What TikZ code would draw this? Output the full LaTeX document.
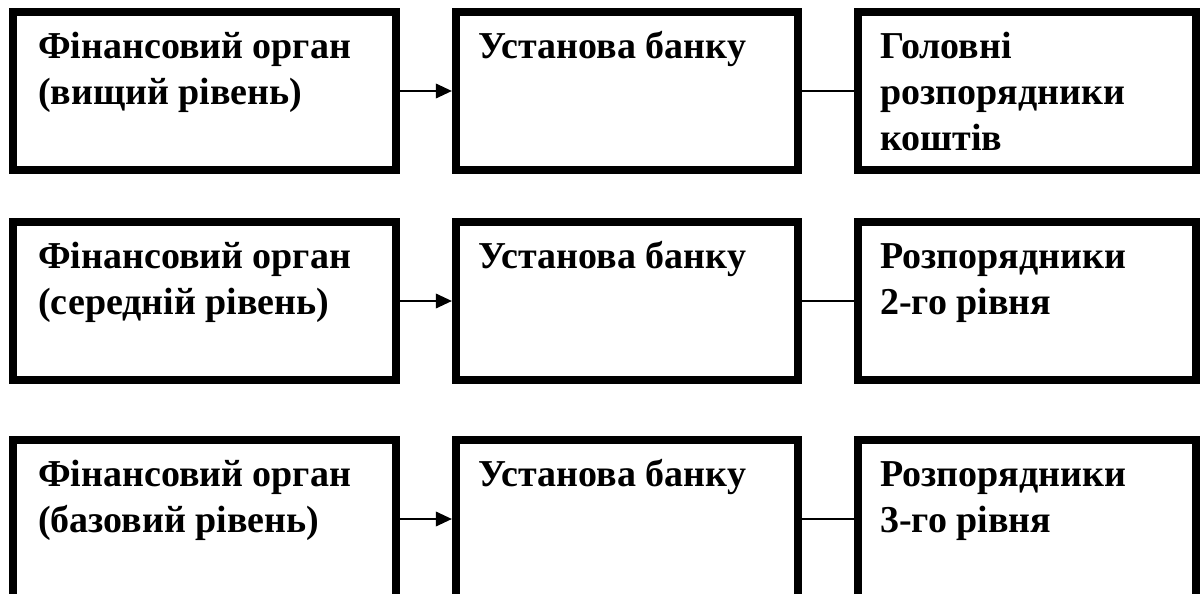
\documentclass[tikz,border=0pt]{standalone}
\usepackage{fontspec}
\setmainfont{Liberation Serif}
\usetikzlibrary{arrows.meta}
\newcommand{\tstrut}{\rule{0pt}{28pt}}
\begin{document}
\begin{tikzpicture}[x=0.75pt,y=-0.75pt,
  box/.style={draw=black,line width=5.8pt,inner sep=0pt,fill=white},
  w1/.style={minimum width=287.6pt},
  w2/.style={minimum width=256.9pt},
  w3/.style={minimum width=253.9pt},
  hh/.style={minimum height=118.9pt},
  txt/.style={anchor=north west,inner sep=0pt,align=left,
    font={\fontsize{28.5pt}{34.5pt}\selectfont\bfseries}},
  arr/.style={line width=1.1pt,-{Triangle[length=12pt,width=11pt]}},
  link/.style={line width=1.1pt}]
\clip (0,0) rectangle (1200,593);
\fill[white] (0,0) rectangle (1200,593);
% row 1
\node[box,w1,hh] (a1) at (204.5,91) {};
\node[box,w2,hh] (b1) at (627,91) {};
\node[box,w3,hh] (c1) at (1027,91) {};
% row 2
\node[box,w1,hh] (a2) at (204.5,301) {};
\node[box,w2,hh] (b2) at (627,301) {};
\node[box,w3,hh] (c2) at (1027,301) {};
% row 3
\node[box,w1,hh] (a3) at (204.5,519) {};
\node[box,w2,hh] (b3) at (627,519) {};
\node[box,w3,hh] (c3) at (1027,519) {};
% texts (first baseline 50px below the box top)
\node[txt] (ta1) at ([shift={(29,12.7)}]a1.north west) {\tstrut Фінансовий орган\\(вищий рівень)};
\node[txt] (tb1) at ([shift={(26,12.7)}]b1.north west) {\tstrut Установа банку};
\node[txt] (tc1) at ([shift={(26,12.7)}]c1.north west) {\tstrut Головні\\розпорядники\\коштів};
\node[txt] (ta2) at ([shift={(29,12.7)}]a2.north west) {\tstrut Фінансовий орган\\(середній рівень)};
\node[txt] (tb2) at ([shift={(26,12.7)}]b2.north west) {\tstrut Установа банку};
\node[txt] (tc2) at ([shift={(26,12.7)}]c2.north west) {\tstrut Розпорядники\\2-го рівня};
\node[txt] (ta3) at ([shift={(29,12.7)}]a3.north west) {\tstrut Фінансовий орган\\(базовий рівень)};
\node[txt] (tb3) at ([shift={(26,12.7)}]b3.north west) {\tstrut Установа банку};
\node[txt] (tc3) at ([shift={(26,12.7)}]c3.north west) {\tstrut Розпорядники\\3-го рівня};
% connectors
\draw[arr] (a1.east) -- (b1.west);
\draw[link] (b1.east) -- (c1.west);
\draw[arr] (a2.east) -- (b2.west);
\draw[link] (b2.east) -- (c2.west);
\draw[arr] (a3.east) -- (b3.west);
\draw[link] (b3.east) -- (c3.west);
\end{tikzpicture}
\end{document}
